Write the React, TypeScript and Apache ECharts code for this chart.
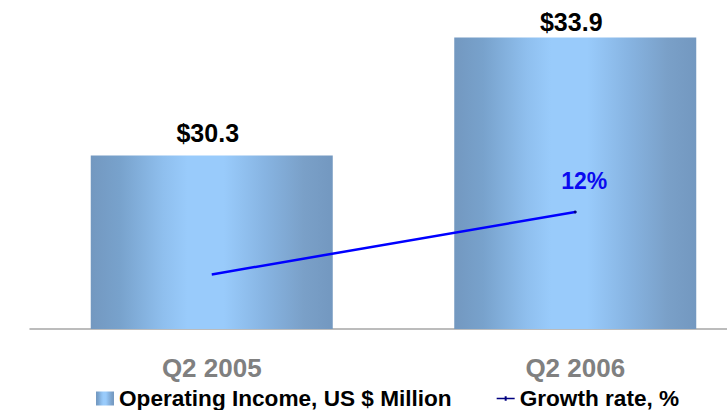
import React, { useEffect, useRef } from "react";
import * as echarts from "echarts";

const categories = ["Q2 2005", "Q2 2006"];
const operatingIncome = [30.3, 33.9];
const growthRate = [0, 12];
const seriesNames = ["Operating Income, US $ Million", "Growth rate, %"];

const FONT = "'Liberation Sans', Arial, Helvetica, sans-serif";

export default function App() {
  const ref = useRef<HTMLDivElement>(null);
  useEffect(() => {
    if (!ref.current) return;
    const chart = echarts.init(ref.current, null, { renderer: "svg" });
    const barGradient = new echarts.graphic.LinearGradient(0, 0, 1, 0, [
      { offset: 0, color: "#7398c0" },
      { offset: 0.12, color: "#78a2cc" },
      { offset: 0.3, color: "#8fbfee" },
      { offset: 0.4, color: "#99cbfb" },
      { offset: 0.55, color: "#99cbfb" },
      { offset: 0.72, color: "#87b4e2" },
      { offset: 0.88, color: "#7aa0c8" },
      { offset: 1, color: "#7398c0" },
    ]);
    const labelDistances = [10, 3];
    chart.setOption({
      animation: false,
      backgroundColor: "#ffffff",
      textStyle: { fontFamily: FONT },
      grid: {
        left: 30,
        width: 727,
        top: 1.5,
        height: 327.5,
        outerBoundsMode: "none",
      },
      legend: {
        left: 96,
        top: 387,
        padding: 0,
        itemWidth: 18,
        itemHeight: 14,
        itemGap: 45,
        symbolKeepAspect: true,
        textStyle: {
          fontFamily: FONT,
          fontSize: 22.6,
          lineHeight: 22,
          fontWeight: "bold",
          color: "#000000",
        },
        data: [
          { name: seriesNames[0], icon: "rect" },
          {
            name: seriesNames[1],
            icon: "path://M0,2h18v1.5h-18z M8,0.5h2v4.5h-2z",
          },
        ],
      },
      xAxis: {
        type: "category",
        data: categories,
        axisLine: { show: true, onZero: false, lineStyle: { color: "#a6a6a6", width: 1.5 } },
        axisTick: { show: false },
        axisLabel: {
          margin: 26,
          fontFamily: FONT,
          fontSize: 26,
          fontWeight: "bold",
          color: "#808080",
        },
      },
      yAxis: [
        { type: "value", min: 25, max: 35, show: false, splitLine: { show: false } },
        { type: "value", min: -10.5, max: 52.5, show: false, splitLine: { show: false } },
      ],
      series: [
        {
          name: seriesNames[0],
          type: "bar",
          barWidth: 242,
          yAxisIndex: 0,
          itemStyle: { color: barGradient },
          label: {
            show: true,
            position: "top",
            fontFamily: FONT,
            fontSize: 25,
            fontWeight: "bold",
            color: "#000000",
            offset: [-4, 0],
            formatter: (p: any) => "$" + Number(p.value).toFixed(1),
          },
          data: operatingIncome.map((v, i) => ({ value: v, label: { distance: labelDistances[i] } })),
        },
        {
          name: seriesNames[1],
          type: "line",
          yAxisIndex: 1,
          color: "#1a2bff",
          lineStyle: { color: "#0000ff", width: 2.5 },
          symbol: "circle",
          symbolSize: 3,
          itemStyle: { color: "#000080" },
          data: growthRate.map((v, i) =>
            i === growthRate.length - 1
              ? {
                  value: v,
                  label: {
                    show: true,
                    position: "top",
                    distance: 18,
                    offset: [9, 0],
                    fontFamily: FONT,
                    fontSize: 23,
                    fontWeight: "bold",
                    color: "#0a0af0",
                    formatter: (p: any) => p.value + "%",
                  },
                }
              : { value: v, symbol: "none" }
          ),
        },
      ],
    });
    return () => chart.dispose();
  }, []);
  return (
    <div
      ref={ref}
      style={{ position: "fixed", left: 0, top: 0, width: 727, height: 410 }}
    />
  );
}
